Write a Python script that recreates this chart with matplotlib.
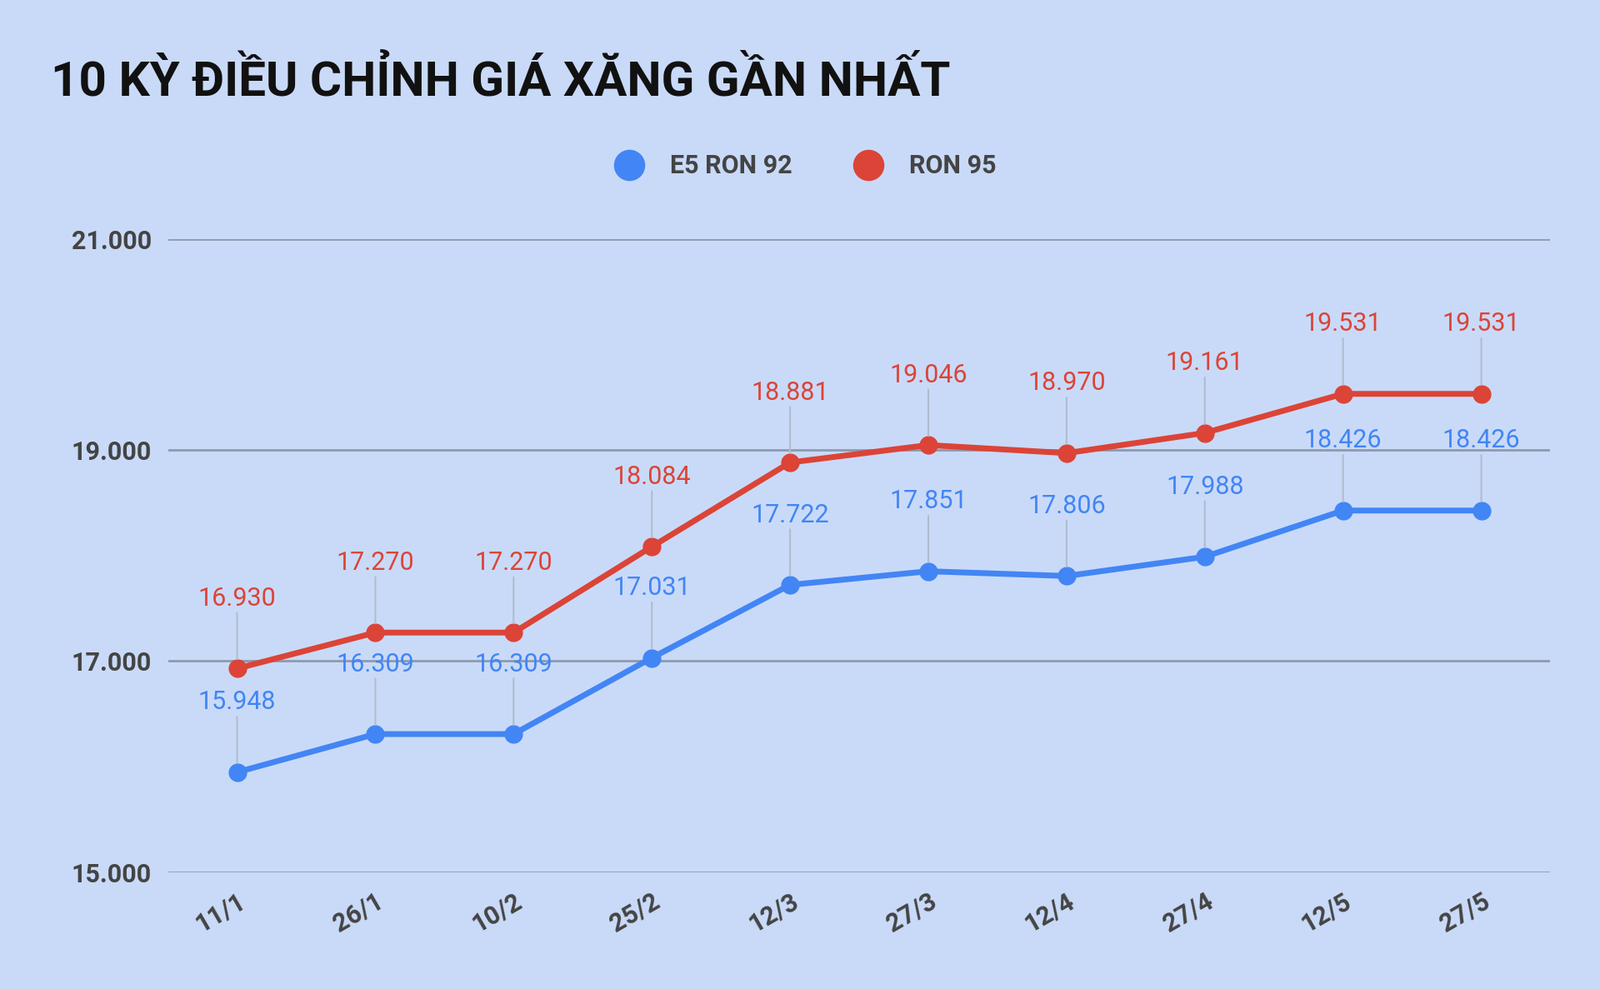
import matplotlib
matplotlib.use("Agg")
import matplotlib.pyplot as plt

dates = ["11/1","26/1","10/2","25/2","12/3","27/3","12/4","27/4","12/5","27/5"]
e5 = [15948,16309,16309,17031,17722,17851,17806,17988,18426,18426]
ron95 = [16930,17270,17270,18084,18881,19046,18970,19161,19531,19531]
yticks = [15000,17000,19000,21000]

def fmt(v):
    return f"{v:,}".replace(",", ".")

BG = "#c9daf8"
BLUE = "#4285f4"
RED = "#db4437"
plt.rcParams["font.family"] = "Roboto"
fig = plt.figure(figsize=(19.2, 11.87), dpi=100, facecolor=BG)
ax = fig.add_axes([0.105, 0.118, 0.864, 0.6406])
ax.set_facecolor(BG)
x = list(range(len(dates)))
for vals, c in [(e5, BLUE), (ron95, RED)]:
    ax.plot(x, vals, color=c, lw=5, marker="o", ms=15, zorder=3)
    for xi, v in zip(x, vals):
        ax.annotate("", xy=(xi, v), xytext=(0, 48), textcoords="offset points",
                    xycoords="data",
                    arrowprops=dict(arrowstyle="-", color="#b0bccf", lw=1.5,
                                    shrinkA=0, shrinkB=8))
        ax.annotate(fmt(v), xy=(xi, v), xytext=(0, 50), textcoords="offset points",
                    ha="center", va="bottom", color=c, fontsize=22, zorder=4)
ax.set_xlim(-0.5, 9.5)
ax.set_ylim(15000, 21000)
ax.set_yticks(yticks)
ax.set_yticklabels([fmt(v) for v in yticks], fontsize=22, fontweight="bold", color="#444444")
ax.set_xticks(x)
ax.set_xticklabels(dates, rotation=30, ha="right", rotation_mode="anchor",
                   fontsize=22, fontweight="bold", color="#444444")
ax.tick_params(length=0, pad=14)
ax.grid(axis="y", color="#8e9aae", lw=2)
ax.set_axisbelow(True)
for s in ax.spines.values():
    s.set_visible(False)

fig.text(0.032, 0.917, "10 KỲ ĐIỀU CHỈNH GIÁ XĂNG GẦN NHẤT", fontsize=42,
         fontweight="bold", va="center", ha="left", color="#111111")
from matplotlib.lines import Line2D
h = [Line2D([], [], ls="", marker="o", ms=26, color=BLUE),
     Line2D([], [], ls="", marker="o", ms=26, color=RED)]
leg = fig.legend(h, ["E5 RON 92", "RON 95"], loc="center", bbox_to_anchor=(0.5, 0.832),
                 ncol=2, frameon=False, handletextpad=0.6, columnspacing=2.0,
                 prop=dict(family="Roboto", size=22, weight="bold"))
for t in leg.get_texts():
    t.set_color("#444444")
fig.savefig("out.png", facecolor=BG)
